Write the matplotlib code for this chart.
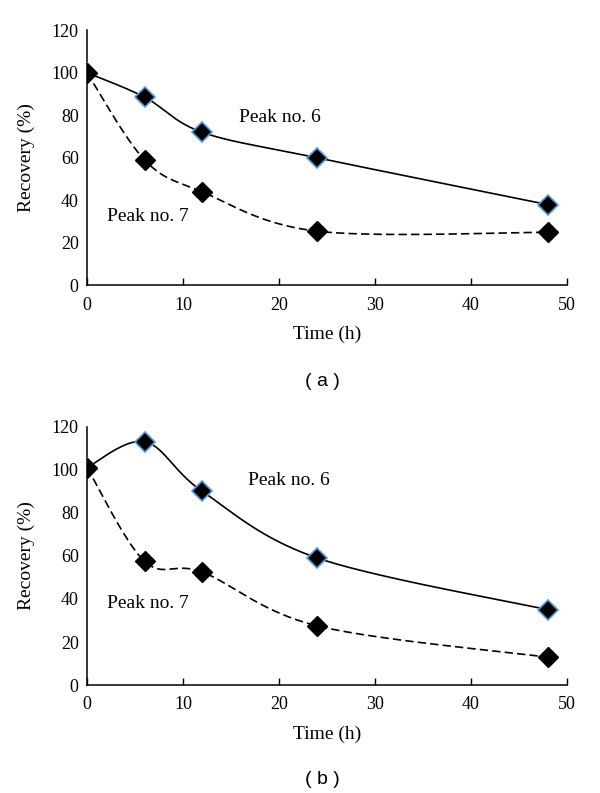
import numpy as np
import matplotlib
matplotlib.use('Agg')
import matplotlib.pyplot as plt

# sampling times (h)
time_h = [0, 6, 12, 24, 48]

# recovery (%)
peak6_a = [100, 88.5, 72, 60, 38]
peak7_a = [100, 59, 44, 25.5, 25]
peak6_b = [101, 113, 90, 59, 35]
peak7_b = [101, 57.5, 52.5, 27.5, 13]

y_ticks = [0, 20, 40, 60, 80, 100, 120]
x_ticks = [0, 10, 20, 30, 40, 50]

plt.rcParams['font.family'] = ['Liberation Serif', 'DejaVu Serif']


def smooth(x, y, n=40):
    # Excel-like smoothed line: cubic Bezier through the points
    pts = np.column_stack([x, y]).astype(float)
    ext = np.vstack([pts[0], pts, pts[-1]])
    t = np.linspace(0, 1, n)[:, None]
    out = []
    for i in range(1, len(ext) - 2):
        p0, p1, p2, p3 = ext[i - 1], ext[i], ext[i + 1], ext[i + 2]
        c1 = p1 + (p2 - p0) / 6
        c2 = p2 - (p3 - p1) / 6
        seg = ((1 - t) ** 3) * p1 + 3 * ((1 - t) ** 2) * t * c1 + 3 * (1 - t) * t ** 2 * c2 + t ** 3 * p2
        out.append(seg)
    out = np.vstack(out)
    return out[:, 0], out[:, 1]


def draw_panel(ax, p6, p7, lab6, lab7):
    sx, sy = smooth(time_h, p6)
    ax.plot(sx, sy, color='black', lw=1.2, zorder=2)
    ax.plot(time_h, p6, ls='none', marker='D', ms=10, mfc='black',
            mec='#5b9bd5', mew=1.2, zorder=3)
    sx, sy = smooth(time_h, p7)
    ax.plot(sx, sy, color='black', lw=1.2, ls=(0, (5, 2.5)), zorder=2)
    ax.plot(time_h, p7, ls='none', marker='D', ms=10, mfc='black',
            mec='black', mew=1.0, zorder=4)
    ax.text(lab6[0], lab6[1], 'Peak no. 6', fontsize=14, ha='center', va='center')
    ax.text(lab7[0], lab7[1], 'Peak no. 7', fontsize=14, ha='center', va='center')
    ax.set_xlim(0, 50)
    ax.set_ylim(0, 120)
    ax.set_xticks(x_ticks)
    ax.set_yticks(y_ticks)
    ax.tick_params(axis='x', direction='in', length=5, width=1, labelsize=13, pad=8)
    ax.tick_params(axis='y', length=0, labelsize=13, pad=6)
    for s in ['top', 'right']:
        ax.spines[s].set_visible(False)
    for s in ['left', 'bottom']:
        ax.spines[s].set_linewidth(1.1)
    ax.set_xlabel('Time (h)', fontsize=14, labelpad=9)
    ax.set_ylabel('Recovery (%)', fontsize=14, labelpad=12)


fig = plt.figure(figsize=(6, 7.93), dpi=100)
ax1 = fig.add_axes([0.145, 0.640, 0.80, 0.322])
ax2 = fig.add_axes([0.145, 0.136, 0.80, 0.326])

draw_panel(ax1, peak6_a, peak7_a, (20.1, 79), (6.35, 32.5))
draw_panel(ax2, peak6_b, peak7_b, (21.0, 95), (6.35, 38))

fig.text(0.537, 1 - 381 / 793, '( a )', family=['Liberation Sans', 'DejaVu Sans'],
         fontsize=14, ha='center', va='center')
fig.text(0.537, 1 - 779 / 793, '( b )', family=['Liberation Sans', 'DejaVu Sans'],
         fontsize=14, ha='center', va='center')

fig.savefig('out.png', dpi=100)
